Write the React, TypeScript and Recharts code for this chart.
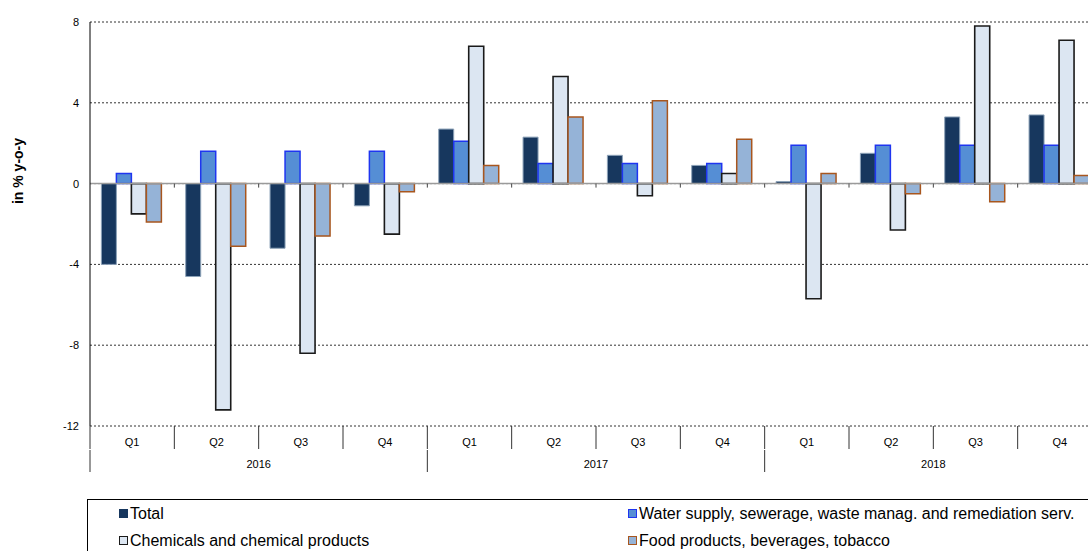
import React from "react";
import { BarChart, Bar, XAxis, YAxis, CartesianGrid, ReferenceLine } from "recharts";

const quarters = ["Q1", "Q2", "Q3", "Q4", "Q1", "Q2", "Q3", "Q4", "Q1", "Q2", "Q3", "Q4"];
const years = ["2016", "2016", "2016", "2016", "2017", "2017", "2017", "2017", "2018", "2018", "2018", "2018"];
const total = [-4.0, -4.6, -3.2, -1.1, 2.7, 2.3, 1.4, 0.9, 0.1, 1.5, 3.3, 3.4];
const water = [0.5, 1.6, 1.6, 1.6, 2.1, 1.0, 1.0, 1.0, 1.9, 1.9, 1.9, 1.9];
const chemicals = [-1.5, -11.2, -8.4, -2.5, 6.8, 5.3, -0.6, 0.5, -5.7, -2.3, 7.8, 7.1];
const food = [-1.9, -3.1, -2.6, -0.4, 0.9, 3.3, 4.1, 2.2, 0.5, -0.5, -0.9, 0.4];
const yTicks = [8, 4, 0, -4, -8, -12];

const series = [
  { key: "total", name: "Total", fill: "#17375E", stroke: "#8DA2B8", width: 1 },
  { key: "water", name: "Water supply, sewerage, waste manag. and remediation serv.", fill: "#558ED5", stroke: "#1F35F0", width: 1.5 },
  { key: "chemicals", name: "Chemicals and chemical products", fill: "#DCE6F2", stroke: "#1A1A1A", width: 1.6 },
  { key: "food", name: "Food products, beverages, tobacco", fill: "#95B3D7", stroke: "#A8561E", width: 1.5 },
];

const data = quarters.map((q, i) => ({
  key: `${q} ${years[i]}`,
  q,
  year: years[i],
  total: total[i],
  water: water[i],
  chemicals: chemicals[i],
  food: food[i],
}));

const FONT = "Arial, 'Liberation Sans', sans-serif";

const halfBand = (props: any) =>
  props.payload?.offset ?? props.width / (props.visibleTicksCount || data.length) / 2;

const QuarterTick = (props: any) => {
  const { x, y, payload } = props;
  const h = halfBand(props);
  return (
    <g>
      <line x1={x - h} x2={x - h} y1={y} y2={y + 23} stroke="#333" strokeWidth={1} />
      <text x={x} y={y + 20} textAnchor="middle" fontSize={11} fontFamily={FONT} fill="#000">
        {data[payload.index ?? props.index]?.q ?? ""}
      </text>
    </g>
  );
};

const YearTick = (props: any) => {
  const { x, y, index } = props;
  const h = halfBand(props);
  return (
    <g>
      {index % 4 === 0 && (
        <line x1={x - h} x2={x - h} y1={y} y2={y + 22} stroke="#333" strokeWidth={1} />
      )}
      {index % 4 === 2 && (
        <text x={x - h} y={y + 18} textAnchor="middle" fontSize={11} fontFamily={FONT} fill="#000">
          {data[index].year}
        </text>
      )}
    </g>
  );
};

const ZeroLine = (props: any) => {
  const { x1, x2, y1 } = props;
  const step = (x2 - x1) / data.length;
  return (
    <g>
      <line x1={x1} x2={x2} y1={y1} y2={y1} stroke="#9A9A9A" strokeWidth={1.5} />
      {data.slice(1).map((d, i) => (
        <line key={d.key} x1={x1 + step * (i + 1)} x2={x1 + step * (i + 1)} y1={y1} y2={y1 + 4} stroke="#444" strokeWidth={1} />
      ))}
    </g>
  );
};

const AxisTitle = (props: any) => {
  const { viewBox } = props;
  const cx = viewBox.x + 18;
  const cy = viewBox.y + 149;
  return (
    <text x={cx} y={cy} transform={`rotate(-90 ${cx} ${cy})`} textAnchor="middle" dominantBaseline="central"
      fontSize={14} fontWeight="bold" fontFamily={FONT} fill="#000">
      in % y-o-y
    </text>
  );
};

export default function App() {
  return (
    <div style={{ position: "absolute", left: 0, top: 0, width: 1088, height: 551, overflow: "hidden", background: "#fff" }}>
      <BarChart
        width={1110}
        height={480}
        data={data}
        margin={{ top: 22, right: 8, left: 0, bottom: 6 }}
        barCategoryGap="13.5%"
        barGap={0}
      >
        <CartesianGrid vertical={false} stroke="#333" strokeDasharray="2 2" />
        <XAxis
          dataKey="key"
          height={24}
          axisLine={false}
          tickLine={false}
          tickSize={0}
          tickMargin={0}
          interval={0}
          tick={(p: any) => <QuarterTick {...p} />}
        />
        <XAxis
          dataKey="key"
          xAxisId="year"
          height={24}
          axisLine={false}
          tickLine={false}
          tickSize={0}
          tickMargin={0}
          interval={0}
          tick={(p: any) => <YearTick {...p} />}
        />
        <YAxis
          width={90}
          domain={[-12, 8]}
          ticks={yTicks}
          interval={0}
          allowDataOverflow
          axisLine={{ stroke: "#000", strokeWidth: 1 }}
          tickLine={false}
          tickSize={6}
          tickMargin={5}
          tick={{ fontSize: 11, fontFamily: FONT, fill: "#000" }}
          label={<AxisTitle />}
        />
        {series.map((s) => (
          <Bar
            key={s.key}
            dataKey={s.key}
            name={s.name}
            fill={s.fill}
            stroke={s.stroke}
            strokeWidth={s.width}
            isAnimationActive={false}
          />
        ))}
        <ReferenceLine y={0} shape={(p: any) => <ZeroLine {...p} />} />
      </BarChart>
      <div
        style={{
          position: "absolute",
          left: 87,
          top: 499,
          width: 1040,
          height: 80,
          border: "1px solid #000",
          fontFamily: FONT,
          fontSize: 16,
          color: "#000",
        }}
      >
        {series.map((s, i) => (
          <div
            key={s.key}
            style={{
              position: "absolute",
              left: i % 2 === 0 ? 31 : 540,
              top: i < 2 ? 5 : 32,
              whiteSpace: "nowrap",
              lineHeight: "18px",
            }}
          >
            <span
              style={{
                display: "inline-block",
                width: 7,
                height: 7,
                background: s.fill,
                border: `1px solid ${s.key === "total" ? s.fill : s.stroke}`,
                marginRight: 2,
                marginBottom: 1,
              }}
            />
            {s.name}
          </div>
        ))}
      </div>
    </div>
  );
}
